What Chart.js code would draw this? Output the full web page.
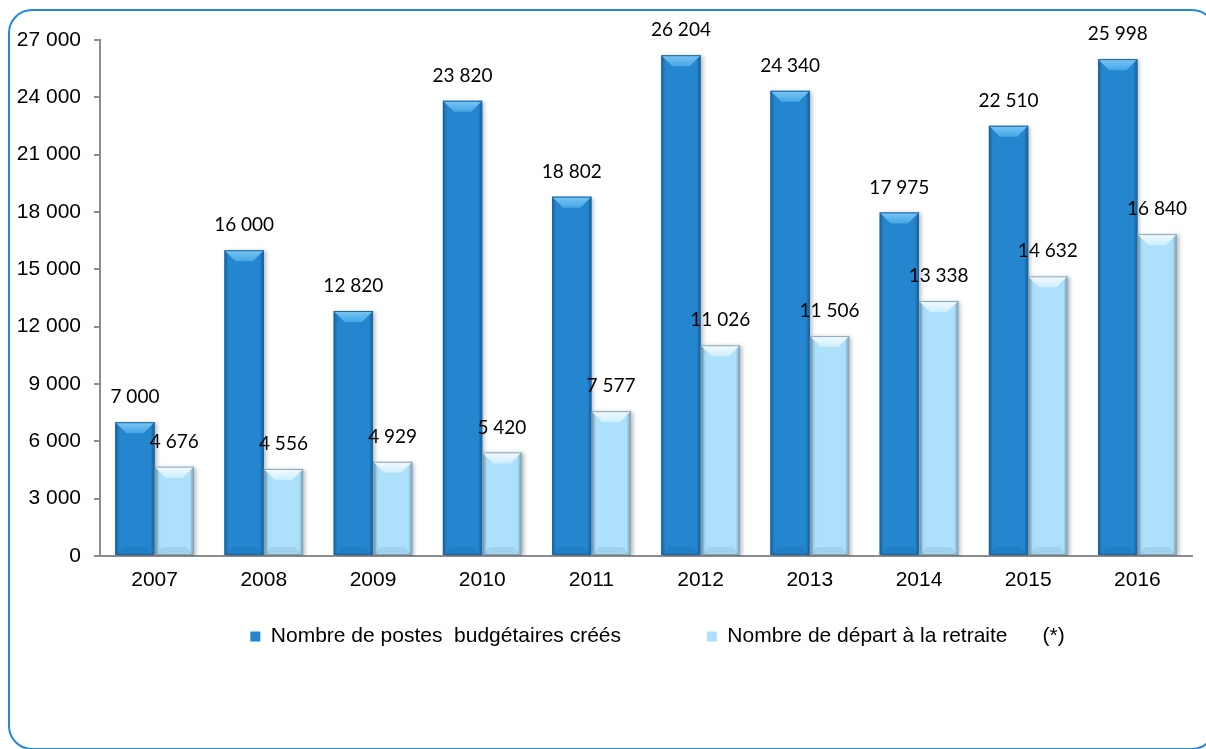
<!DOCTYPE html>
<html>
<head>
<meta charset="utf-8">
<script src="https://cdn.jsdelivr.net/npm/chart.js@4.4.1/dist/chart.umd.min.js"></script>
<style>
  html, body { margin: 0; padding: 0; background: #fff; overflow: hidden; }
  #cadre {
    position: absolute; left: 8px; top: 9px; width: 1208px; height: 741px;
    box-sizing: border-box; border: 2px solid #2489d6; border-radius: 24px;
  }
  #graphique { position: absolute; left: 0; top: 0; }
</style>
</head>
<body>
<div id="cadre"></div>
<canvas id="graphique" width="1206" height="749"></canvas>
<script>
// POSTES BUDGETAIRES / DEPARTS A LA RETRAITE

const annees = ['2007', '2008', '2009', '2010', '2011', '2012', '2013', '2014', '2015', '2016']
const postesCrees = [7000, 16000, 12820, 23820, 18802, 26204, 24340, 17975, 22510, 25998]
const departsRetraite = [4676, 4556, 4929, 5420, 7577, 11026, 11506, 13338, 14632, 16840]
const axeMin = 0
const axeMax = 27000
const axePas = 3000

function formateNombre(v) {
  return String(v).replace(/\B(?=(\d{3})+(?!\d))/g, ' ')
}

const policeAxe = { family: 'Liberation Sans', size: 21 }

// la legende est centree sous la zone de trace, pas sous tout le canvas
const pluginLegende = {
  id: 'legendeDecalee',
  afterLayout(chart) {
    chart.legend.left = 123
    chart.legend.right = 1192
  }
}

// relief des barres + valeurs au-dessus
const pluginRelief = {
  id: 'relief',
  beforeDatasetsDraw(chart) {
    const ctx = chart.ctx
    ctx.save()
    ctx.shadowColor = 'rgba(0, 0, 0, 0.28)'
    ctx.shadowBlur = 4
    ctx.shadowOffsetX = 2
    ctx.shadowOffsetY = 1
  },
  afterDatasetsDraw(chart) {
    const ctx = chart.ctx
    ctx.restore()
    chart.data.datasets.forEach((dataset, i) => {
      const meta = chart.getDatasetMeta(i)
      const clair = i === 1
      meta.data.forEach((barre, j) => {
        const { x, y, base, width } = barre.getProps(['x', 'y', 'base', 'width'], true)
        const g = x - width / 2
        const d = x + width / 2
        const h = base - y

        // bords lateraux plus sombres
        const cote = ctx.createLinearGradient(g, 0, d, 0)
        cote.addColorStop(0, clair ? 'rgba(60, 90, 110, 0.35)' : 'rgba(0, 40, 80, 0.35)')
        cote.addColorStop(0.1, 'rgba(0, 0, 0, 0)')
        cote.addColorStop(0.9, 'rgba(0, 0, 0, 0)')
        cote.addColorStop(1, clair ? 'rgba(60, 90, 110, 0.4)' : 'rgba(0, 40, 80, 0.4)')
        ctx.fillStyle = cote
        ctx.fillRect(g, y, width, h)

        // biseau du haut
        const b = Math.min(11, h / 2)
        ctx.beginPath()
        ctx.moveTo(g, y)
        ctx.lineTo(d, y)
        ctx.lineTo(d - b, y + b)
        ctx.lineTo(g + b, y + b)
        ctx.closePath()
        const haut = ctx.createLinearGradient(0, y, 0, y + b)
        haut.addColorStop(0, clair ? '#f4fbff' : '#7cc6f4')
        haut.addColorStop(1, clair ? '#cdeeff' : '#46a6e6')
        ctx.fillStyle = haut
        ctx.fill()

        // biseau du bas
        const bb = Math.min(8, h / 3)
        ctx.beginPath()
        ctx.moveTo(g, base)
        ctx.lineTo(d, base)
        ctx.lineTo(d - bb, base - bb)
        ctx.lineTo(g + bb, base - bb)
        ctx.closePath()
        ctx.fillStyle = 'rgba(0, 30, 60, 0.07)'
        ctx.fill()

        ctx.strokeStyle = clair ? '#8aa6ba' : '#1a66a2'
        ctx.lineWidth = 1
        ctx.strokeRect(g + 0.5, y + 0.5, width - 1, h - 1)

        // valeur
        ctx.fillStyle = '#000'
        ctx.font = '19px Lato'
        ctx.textAlign = 'center'
        ctx.textBaseline = 'middle'
        ctx.fillText(formateNombre(dataset.data[j]), x, y - 25)
      })
    })
  }
}

const grafico = document.getElementById('graphique')

const graficoPostes = new Chart(grafico, {
  type: 'bar',
  data: {
    labels: annees,
    datasets: [{
      label: 'Nombre de postes  budgétaires créés' + ' '.repeat(13),
      data: postesCrees,
      backgroundColor: '#2386cf',
      borderWidth: 0,
      categoryPercentage: 0.72,
      barPercentage: 1
    }, {
      label: 'Nombre de départ à la retraite      (*)',
      data: departsRetraite,
      backgroundColor: '#ace0fb',
      borderWidth: 0,
      categoryPercentage: 0.72,
      barPercentage: 1
    }]
  },
  options: {
    responsive: false,
    animation: false,
    devicePixelRatio: 1,
    layout: { padding: { left: 0, right: 14, top: 40, bottom: 92 } },
    plugins: {
      legend: {
        position: 'bottom',
        labels: {
          boxWidth: 10,
          boxHeight: 10,
          padding: 10,
          color: '#000',
          font: policeAxe
        }
      },
      tooltip: { enabled: false }
    },
    scales: {
      x: {
        grid: { display: false, drawTicks: false },
        border: { color: '#8c8c8c', width: 2 },
        ticks: { padding: 12, color: '#000', font: policeAxe },
        afterFit(scale) { scale.height = 60 }
      },
      y: {
        min: axeMin,
        max: axeMax,
        ticks: {
          stepSize: axePas,
          padding: 13,
          color: '#000',
          font: policeAxe,
          callback: v => formateNombre(v)
        },
        grid: { drawOnChartArea: false, tickLength: 6, color: '#8c8c8c', lineWidth: 2 },
        border: { color: '#8c8c8c', width: 2 },
        afterFit(scale) { scale.width = 100 }
      }
    }
  },
  plugins: [pluginRelief, pluginLegende]
})
</script>
</body>
</html>
